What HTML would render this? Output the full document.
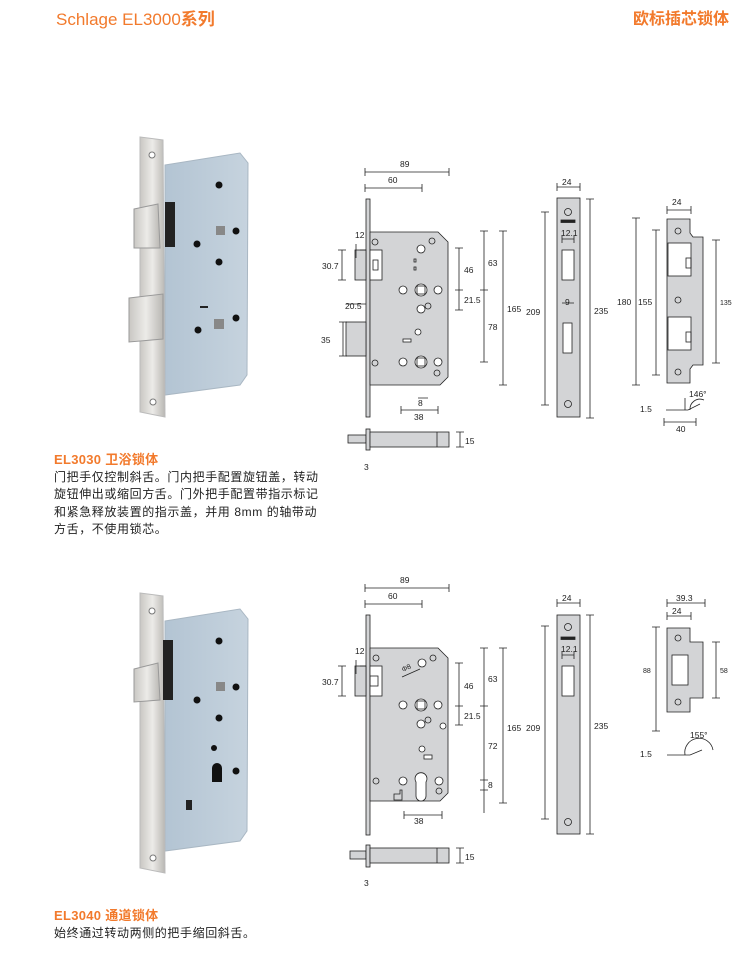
<!DOCTYPE html>
<html><head><meta charset="utf-8"><style>
body{margin:0;width:744px;height:965px;background:#fff;overflow:hidden;position:relative;font-family:"Liberation Sans","Noto Sans CJK SC",sans-serif}
.h{position:absolute;color:#f27a2c;font-size:16px;top:5px}
.t{position:absolute;left:54px;font-size:12px;color:#222;line-height:17.6px;letter-spacing:0.6px}
.t b{color:#f27a2c;font-size:13px;display:block;letter-spacing:0.3px}
svg{position:absolute;left:0;top:0}
svg text{font-family:"Liberation Sans",sans-serif;font-size:8.5px;fill:#222}
</style></head><body>
<div class="h" style="left:56px;font-size:17px">Schlage EL3000<b>系列</b></div>
<div class="h" style="right:15px;font-weight:bold">欧标插芯锁体</div>
<div class="t" style="top:451px"><b>EL3030 卫浴锁体</b>门把手仅控制斜舌。门内把手配置旋钮盖，转动<br>旋钮伸出或缩回方舌。门外把手配置带指示标记<br>和紧急释放装置的指示盖，并用 8mm 的轴带动<br>方舌，不使用锁芯。</div>
<div class="t" style="top:907px"><b>EL3040 通道锁体</b>始终通过转动两侧的把手缩回斜舌。</div>
<svg width="744" height="965" viewBox="0 0 744 965">
<defs>
<linearGradient id="fp" x1="0" x2="1"><stop offset="0" stop-color="#c9c7c3"/><stop offset=".5" stop-color="#ecebe8"/><stop offset="1" stop-color="#b9b7b3"/></linearGradient>
<linearGradient id="bd" x1="0" x2="1"><stop offset="0" stop-color="#b3c4d3"/><stop offset="1" stop-color="#c6d3de"/></linearGradient>
<g id="photo">
<polygon points="165,165 240,153 248,163 247,375 240,385 165,395" fill="url(#bd)" stroke="#a9b7c3"/>
<polygon points="140,137 163,140 165,417 140,412" fill="url(#fp)" stroke="#bbb"/>
<circle cx="152" cy="155" r="3" fill="#fff" stroke="#777"/><circle cx="153" cy="402" r="3" fill="#fff" stroke="#777"/>
<circle cx="219" cy="185" r="3.5" fill="#111"/><circle cx="197" cy="244" r="3.5" fill="#111"/><circle cx="236" cy="231" r="3.5" fill="#111"/><circle cx="219" cy="262" r="3.5" fill="#111"/>
</g>
</defs>
<use href="#photo"/>
<rect x="216" y="226" width="9" height="9" fill="#888"/><circle cx="198" cy="330" r="3.5" fill="#111"/><circle cx="236" cy="318" r="3.5" fill="#111"/>
<rect x="214" y="319" width="10" height="10" fill="#888"/><rect x="200" y="306" width="8" height="2" fill="#222"/>
<rect x="165" y="202" width="10" height="45" fill="#222"/>
<polygon points="134,209 158,204 160,248 134,248" fill="url(#fp)" stroke="#999"/>
<polygon points="129,298 163,294 163,339 129,342" fill="url(#fp)" stroke="#999"/>
<g transform="translate(0,456)"><use href="#photo"/></g>
<rect x="216" y="682" width="9" height="9" fill="#888"/><rect x="163" y="640" width="10" height="60" fill="#222"/>
<circle cx="214" cy="748" r="3" fill="#111"/><circle cx="236" cy="771" r="3.5" fill="#111"/>
<path d="M212,768 a5,5 0 1 1 10,0 v14 h-10z" fill="#111"/>
<polygon points="134,669 158,663 160,700 134,702" fill="url(#fp)" stroke="#999"/>
<polygon points="186,800 192,800 192,810 186,810" fill="#222"/>

<g fill="none" stroke="#222" stroke-width=".8">
<path d="M365,172h84M365,188h57M365,168v8M449,168v8M365,184v8M422,184v8"/>
<rect x="366" y="199" width="4" height="218" fill="#d3d4d6"/>
<path d="M370,232h68l10,10v135l-8,8h-70z" fill="#d3d4d6"/>
<rect x="355" y="250" width="11" height="30" fill="#d3d4d6"/><rect x="370" y="250" width="12" height="30" fill="#fff"/><rect x="373" y="260" width="5" height="10"/>
<rect x="346" y="322" width="20" height="34" fill="#d3d4d6"/>
<path d="M356,244v14M366,250h-6M346,304h20M343,322v34M339,322h8M339,356h8M342,250v30M338,250h8M338,280h8"/>
<path d="M459,248v62M455,248h8M455,290h8M455,310h8M484,231v131M480,231h8M480,290h8M480,362h8M503,231v154M499,231h8M499,385h8"/>
<path d="M418,398h10M401,410h37M401,406v8M438,406v8"/>
<rect x="348" y="435" width="18" height="8" fill="#d3d4d6"/><rect x="366" y="429" width="4" height="21" fill="#d3d4d6"/><rect x="370" y="432" width="79" height="15" fill="#d3d4d6"/><path d="M437,432v15M460,432v15M456,432h8M456,447h8"/>
<circle cx="375" cy="242" r="3"/><circle cx="432" cy="241" r="3"/><circle cx="375" cy="363" r="3"/><circle cx="437" cy="373" r="3"/><circle cx="428" cy="306" r="3"/>
<circle cx="421" cy="249" r="4" fill="#fff"/><circle cx="403" cy="290" r="4" fill="#fff"/><circle cx="438" cy="290" r="4" fill="#fff"/><circle cx="421" cy="309" r="4" fill="#fff"/><circle cx="418" cy="332" r="3" fill="#fff"/>
<circle cx="421" cy="290" r="6" fill="#fff"/><rect x="417" y="286" width="8" height="8"/>
<circle cx="403" cy="362" r="4" fill="#fff"/><circle cx="438" cy="362" r="4" fill="#fff"/><circle cx="421" cy="362" r="6" fill="#fff"/><rect x="417" y="358" width="8" height="8"/>
<rect x="403" y="339" width="8" height="3" fill="#fff"/><rect x="414" y="259" width="2" height="3"/><rect x="414" y="267" width="2" height="3"/>
<path d="M557,187h23M557,183v8M580,183v8M545,212v193M541,212h8M541,405h8M590,199v219M586,199h8M586,418h8"/>
<rect x="557" y="198" width="23" height="219" fill="#d3d4d6"/>
<circle cx="568" cy="212" r="3.5"/><circle cx="568" cy="404" r="3.5"/><rect x="561" y="220" width="14" height="2.5" fill="#222"/><path d="M562,239h12M562,235v8M574,235v8M562,303h12"/>
<rect x="562" y="250" width="12" height="30" fill="#fff"/><rect x="563" y="323" width="9" height="30" fill="#fff"/>
<path d="M667,219h23v14l3,4h10v128h-10l-3,4v14h-23z" fill="#d3d4d6"/>
<rect x="668" y="243" width="23" height="33" fill="#fff"/><rect x="668" y="317" width="23" height="33" fill="#fff"/><rect x="686" y="258" width="5" height="10"/><rect x="686" y="332" width="5" height="10"/>
<circle cx="678" cy="231" r="3"/><circle cx="678" cy="300" r="3"/><circle cx="678" cy="372" r="3"/>
<path d="M667,210h24M667,206v8M691,206v8M636,218v167M632,218h8M632,385h8M656,230v145M652,230h8M652,375h8M716,240v123M712,240h8M712,363h8"/>
<path d="M666,410h22l12,-6M685,410v-12M690,410a10,10 0 0 1 14,-10M664,422h32M664,418v8M696,418v8"/>
<path d="M365,588h84M365,604h57M365,584v8M449,584v8M365,600v8M422,600v8"/>
<rect x="366" y="615" width="4" height="220" fill="#d3d4d6"/>
<path d="M370,648h68l10,10v135l-8,8h-70z" fill="#d3d4d6"/>
<rect x="355" y="666" width="11" height="30" fill="#d3d4d6"/><rect x="370" y="666" width="12" height="30" fill="#fff"/><rect x="370" y="676" width="8" height="10"/>
<path d="M356,660v14M366,666h-6M342,666v30M338,666h8M338,696h8"/>
<path d="M459,663v62M455,663h8M455,706h8M455,725h8M484,648v165M480,648h8M480,706h8M480,780h8M480,790h8M503,648v155M499,648h8M499,803h8"/>
<path d="M404,815h38M404,811v8M442,811v8"/>
<rect x="350" y="851" width="16" height="8" fill="#d3d4d6"/><rect x="366" y="845" width="4" height="22" fill="#d3d4d6"/><rect x="370" y="848" width="79" height="15" fill="#d3d4d6"/><path d="M437,848v15M460,848v15M456,848h8M456,863h8"/>
<circle cx="376" cy="658" r="3"/><circle cx="433" cy="658" r="3"/><circle cx="376" cy="781" r="3"/><circle cx="439" cy="791" r="3"/><circle cx="428" cy="720" r="3"/>
<circle cx="422" cy="663" r="4" fill="#fff"/><circle cx="403" cy="705" r="4" fill="#fff"/><circle cx="438" cy="705" r="4" fill="#fff"/><circle cx="421" cy="724" r="4" fill="#fff"/><circle cx="443" cy="726" r="3" fill="#fff"/><circle cx="422" cy="749" r="3" fill="#fff"/>
<circle cx="421" cy="705" r="6" fill="#fff"/><rect x="417" y="701" width="8" height="8"/>
<circle cx="403" cy="781" r="4" fill="#fff"/><circle cx="439" cy="781" r="4" fill="#fff"/><rect x="424" y="755" width="8" height="4" fill="#fff"/>
<path d="M416,782a6,6 0 1 1 10,0v14a5,5 0 0 1 -10,0z" fill="#fff"/><path d="M394,794h6v-4h2v10h-8z"/>
<path d="M402,677l18,-8"/>
<path d="M557,603h23M557,599v8M580,599v8M545,626v193M541,626h8M541,819h8M590,615v219M586,615h8M586,834h8"/>
<rect x="557" y="615" width="23" height="219" fill="#d3d4d6"/>
<circle cx="568" cy="627" r="3.5"/><circle cx="568" cy="822" r="3.5"/><rect x="561" y="637" width="14" height="2.5" fill="#222"/><path d="M562,655h12M562,651v8M574,651v8"/>
<rect x="562" y="666" width="12" height="30" fill="#fff"/>
<path d="M667,628h23v14h13v56h-13v14h-23z" fill="#d3d4d6"/><rect x="672" y="655" width="16" height="30" fill="#fff"/>
<circle cx="678" cy="638" r="3"/><circle cx="678" cy="702" r="3"/>
<path d="M667,603h38M667,599v8M705,599v8M667,616h24M667,612v8M691,612v8M656,627v104M652,627h8M652,731h8M716,642v56M712,642h8M712,698h8"/>
<path d="M667,755h23l12,-5M685,755a14,14 0 0 1 28,-5"/>
</g>
<text x="400" y="167">89</text><text x="388" y="183">60</text>
<text x="355" y="238">12</text><text x="322" y="269">30.7</text><text x="345" y="309">20.5</text><text x="321" y="343">35</text>
<text x="464" y="273">46</text><text x="464" y="303">21.5</text><text x="488" y="266">63</text><text x="488" y="330">78</text><text x="507" y="312">165</text>
<text x="418" y="406">8</text><text x="414" y="420">38</text><text x="465" y="444">15</text><text x="364" y="470">3</text>
<text x="562" y="185">24</text><text x="561" y="236">12.1</text><text x="565" y="305">9</text><text x="526" y="315">209</text><text x="594" y="314">235</text>
<text x="672" y="205">24</text><text x="617" y="305">180</text><text x="638" y="305">155</text><text x="720" y="305" style="font-size:7px">135</text>
<text x="689" y="397">146°</text><text x="640" y="412">1.5</text><text x="676" y="432">40</text>
<text x="400" y="583">89</text><text x="388" y="599">60</text>
<text x="355" y="654">12</text><text x="322" y="685">30.7</text><text x="403" y="672" transform="rotate(-25 403 672)" style="font-size:7px">Φ8</text>
<text x="464" y="689">46</text><text x="464" y="719">21.5</text><text x="488" y="682">63</text><text x="488" y="749">72</text><text x="488" y="788">8</text><text x="507" y="731">165</text>
<text x="414" y="824">38</text><text x="465" y="860">15</text><text x="364" y="886">3</text>
<text x="562" y="601">24</text><text x="561" y="652">12.1</text><text x="526" y="731">209</text><text x="594" y="729">235</text>
<text x="676" y="601">39.3</text><text x="672" y="614">24</text><text x="643" y="673" style="font-size:7px">88</text><text x="720" y="673" style="font-size:7px">58</text>
<text x="690" y="738">155°</text><text x="640" y="757">1.5</text>
</svg>
</body></html>
